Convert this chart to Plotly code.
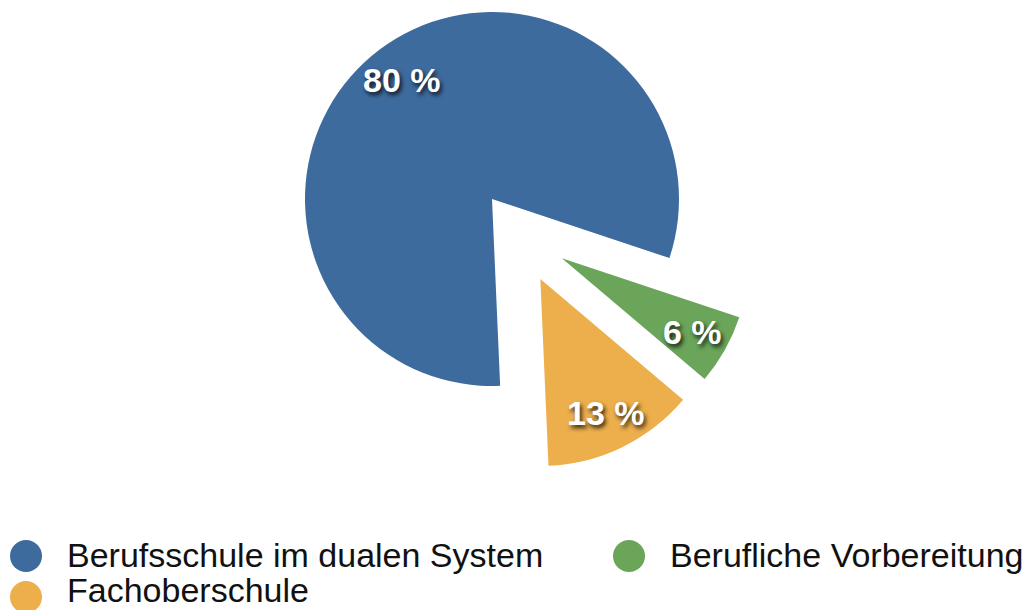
import math
import plotly.graph_objects as go

# ---- data ----
categories = ["Berufsschule im dualen System", "Berufliche Vorbereitung", "Fachoberschule"]
values = [80, 6, 13]
value_labels = ["80 %", "6 %", "13 %"]
colors = ["#3E6B9E", "#6AA55A", "#EDAE4C"]

# ---- layout / style constants ----
W, H = 1032, 610
R_PX = 187                 # pie radius in px
CENTER = (492, 199)        # px centre of the un-pulled pie
ROTATION = 177.5           # start angle (deg, clockwise from 12 o'clock)
PULL = [0.0, 0.49, 0.50]   # explode distance as fraction of radius
PULL_SHIFT = [0, 11, -5]   # explode direction tweak (deg)
LABEL_R = 0.80             # label radius fraction

total = sum(values)
fig = go.Figure()

start = ROTATION
label_pos = []
for i, v in enumerate(values):
    span = v / total * 360.0
    mid = start + span / 2.0
    a = math.radians(mid + PULL_SHIFT[i])
    d = PULL[i] * R_PX
    cx = CENTER[0] + d * math.sin(a)
    cy = CENTER[1] - d * math.cos(a)
    m = math.radians(mid)
    label_pos.append((cx + LABEL_R * R_PX * math.sin(m), cy - LABEL_R * R_PX * math.cos(m)))
    slice_colors = [colors[j] if j == i else "rgba(0,0,0,0)" for j in range(len(values))]
    fig.add_trace(go.Pie(
        labels=categories,
        values=values,
        sort=False,
        direction="clockwise",
        rotation=ROTATION,
        marker=dict(colors=slice_colors, line=dict(width=0)),
        textinfo="none",
        hoverinfo="label+value",
        showlegend=False,
        domain=dict(
            x=[(cx - R_PX) / W, (cx + R_PX) / W],
            y=[1 - (cy + R_PX) / H, 1 - (cy - R_PX) / H],
        ),
    ))
    start += span

annotations = []
for (lx, ly), txt in zip(label_pos, value_labels):
    annotations.append(dict(
        x=lx / W, y=1 - ly / H, xref="paper", yref="paper",
        text=f"<b>{txt}</b>", showarrow=False,
        xanchor="center", yanchor="middle",
        font=dict(family="Liberation Sans, Arial, sans-serif", size=34, color="white",
                  shadow="2px 3px 4px rgba(0,0,0,0.8)"),
    ))

# ---- custom legend with round markers ----
legend_slots = [(26, 556), (629, 556), (26, 597)]   # circle centres (px)
text_dx = 40
circle_r = 16
shapes = []
for k, ((px, py), name, col) in enumerate(zip(legend_slots, categories, colors)):
    shapes.append(dict(
        type="circle", xref="paper", yref="paper",
        x0=(px - circle_r) / W, x1=(px + circle_r) / W,
        y0=1 - (py + circle_r) / H, y1=1 - (py - circle_r) / H,
        fillcolor=col, line=dict(width=0),
    ))
    last_row = py + 20 > H
    annotations.append(dict(
        x=(px + text_dx) / W, y=0 if last_row else 1 - (py - 1) / H,
        xref="paper", yref="paper",
        text=name, showarrow=False, xanchor="left",
        yanchor="bottom" if last_row else "middle", borderpad=0,
        font=dict(family="Liberation Sans, Arial, sans-serif", size=34, color="#111111"),
    ))

fig.update_layout(
    width=W, height=H,
    margin=dict(l=0, r=0, t=0, b=0),
    paper_bgcolor="white", plot_bgcolor="white",
    showlegend=False,
    annotations=annotations,
    shapes=shapes,
)

fig.write_html("out.html", config={"displayModeBar": False},
               post_script="document.body.style.margin='0';document.body.style.overflow='hidden';")
